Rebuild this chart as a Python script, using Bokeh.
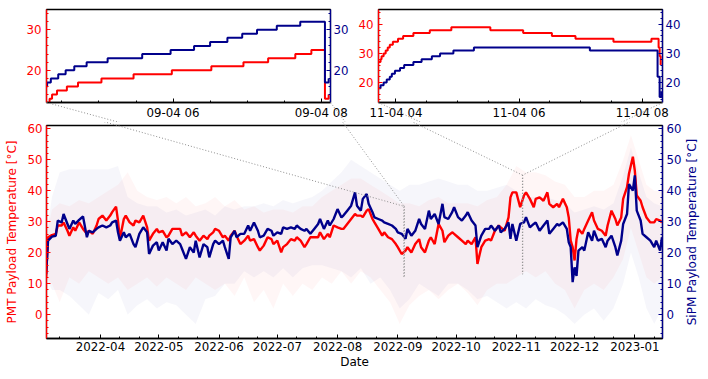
import math
import pandas as pd
from bokeh.plotting import figure
from bokeh.layouts import column, row
from bokeh.models import Range1d, LinearAxis, FixedTicker, SingleIntervalTicker
from bokeh.core.properties import value
from bokeh.embed import file_html
from bokeh.resources import INLINE

FONT = "DejaVu Sans"
RED = "#ff0000"
BLUE = "#00008b"
GRAY = "#8f8f8f"

# ---------------- data ----------------
DATES = ["2022-03-04", "2022-03-05", "2022-03-07", "2022-03-09", "2022-03-10", "2022-03-12", "2022-03-13",
         "2022-03-15", "2022-03-16", "2022-03-18", "2022-03-19", "2022-03-21", "2022-03-23", "2022-03-25",
         "2022-03-26", "2022-03-28", "2022-03-30", "2022-03-31", "2022-04-02", "2022-04-04", "2022-04-06",
         "2022-04-07", "2022-04-09", "2022-04-10", "2022-04-11", "2022-04-13", "2022-04-14", "2022-04-16",
         "2022-04-18", "2022-04-19", "2022-04-21", "2022-04-23", "2022-04-25", "2022-04-26", "2022-04-28",
         "2022-04-30", "2022-05-01", "2022-05-03", "2022-05-05", "2022-05-06", "2022-05-08", "2022-05-10",
         "2022-05-12", "2022-05-13", "2022-05-15", "2022-05-17", "2022-05-19", "2022-05-20", "2022-05-22",
         "2022-05-24", "2022-05-26", "2022-05-27", "2022-05-29", "2022-05-30", "2022-06-01", "2022-06-03",
         "2022-06-04", "2022-06-06", "2022-06-07", "2022-06-09", "2022-06-10", "2022-06-12", "2022-06-14",
         "2022-06-16", "2022-06-17", "2022-06-19", "2022-06-21", "2022-06-22", "2022-06-24", "2022-06-26",
         "2022-06-28", "2022-06-29", "2022-07-01", "2022-07-03", "2022-07-04", "2022-07-06", "2022-07-08",
         "2022-07-10", "2022-07-11", "2022-07-13", "2022-07-15", "2022-07-16", "2022-07-18", "2022-07-20",
         "2022-07-22", "2022-07-23", "2022-07-25", "2022-07-27", "2022-07-28", "2022-07-30", "2022-08-01",
         "2022-08-03", "2022-08-04", "2022-08-06", "2022-08-08", "2022-08-10", "2022-08-11", "2022-08-13",
         "2022-08-14", "2022-08-16", "2022-08-17", "2022-08-19", "2022-08-20", "2022-08-22", "2022-08-24",
         "2022-08-25", "2022-08-27", "2022-08-29", "2022-08-31", "2022-09-01", "2022-09-03", "2022-09-05",
         "2022-09-06", "2022-09-08", "2022-09-10", "2022-09-12", "2022-09-13", "2022-09-15", "2022-09-17",
         "2022-09-18", "2022-09-20", "2022-09-22", "2022-09-24", "2022-09-25", "2022-09-27", "2022-09-29",
         "2022-09-30", "2022-10-02", "2022-10-04", "2022-10-06", "2022-10-07", "2022-10-09", "2022-10-11",
         "2022-10-12", "2022-10-14", "2022-10-16", "2022-10-18", "2022-10-19", "2022-10-21", "2022-10-23",
         "2022-10-24", "2022-10-26", "2022-10-28", "2022-10-29", "2022-10-30", "2022-11-01", "2022-11-03",
         "2022-11-05", "2022-11-06", "2022-11-08", "2022-11-10", "2022-11-11", "2022-11-13", "2022-11-15",
         "2022-11-17", "2022-11-18", "2022-11-20", "2022-11-22", "2022-11-23", "2022-11-25", "2022-11-27",
         "2022-11-28", "2022-11-29", "2022-11-30", "2022-12-01", "2022-12-02", "2022-12-03", "2022-12-05",
         "2022-12-06", "2022-12-08", "2022-12-10", "2022-12-11", "2022-12-13", "2022-12-15", "2022-12-17",
         "2022-12-18", "2022-12-20", "2022-12-22", "2022-12-23", "2022-12-25", "2022-12-26", "2022-12-28",
         "2022-12-29", "2022-12-31", "2023-01-01", "2023-01-02", "2023-01-04", "2023-01-05", "2023-01-07",
         "2023-01-09", "2023-01-11", "2023-01-12", "2023-01-14", "2023-01-15"]

PMT_TEMP = [12.1, 25.0, 25.7, 26.1, 28.8, 28.8, 29.8, 27.1, 25.5, 28.2, 27.1, 29.8, 27.7, 26.1,
            27.1, 26.1, 28.8, 30.9, 32.0, 30.4, 32.0, 33.1, 34.9, 30.4, 24.5, 30.9, 32.0, 29.8,
            28.8, 30.4, 29.8, 32.0, 28.2, 23.9, 26.1, 27.7, 26.6, 27.1, 25.0, 25.5, 27.7, 27.7,
            27.7, 25.5, 26.6, 25.0, 26.6, 25.5, 23.9, 25.5, 24.4, 25.5, 26.6, 27.7, 27.1, 25.0,
            25.5, 23.9, 25.5, 27.1, 25.5, 22.8, 23.9, 25.5, 23.9, 24.4, 21.8, 20.7, 22.3, 25.0,
            24.4, 22.8, 23.9, 20.1, 21.8, 22.8, 24.4, 23.9, 25.0, 23.9, 21.8, 22.8, 25.0, 25.0,
            25.0, 26.6, 24.4, 26.1, 25.0, 28.8, 28.2, 27.7, 27.7, 29.3, 30.9, 32.5, 32.0, 32.0,
            31.5, 33.6, 34.1, 30.9, 29.8, 27.7, 25.5, 26.6, 25.0, 24.4, 22.8, 21.8, 19.6, 20.7,
            21.8, 20.1, 22.8, 24.4, 21.8, 20.1, 23.9, 25.0, 22.8, 29.3, 27.1, 23.4, 25.5, 26.6,
            26.1, 25.0, 23.9, 22.8, 23.9, 22.8, 25.0, 16.4, 21.8, 23.9, 24.4, 23.9, 27.1, 28.8,
            28.2, 27.1, 31.4, 37.9, 39.5, 39.5, 34.7, 38.5, 39.5, 37.4, 34.7, 37.4, 37.9, 36.8,
            39.5, 35.8, 34.7, 35.8, 34.7, 37.4, 34.7, 31.4, 23.9, 21.8, 17.5, 24.4, 27.7, 26.1,
            27.7, 30.4, 33.1, 30.4, 27.7, 27.1, 25.5, 28.8, 33.6, 30.9, 28.8, 31.4, 37.4, 41.2,
            45.5, 51.0, 46.5, 38.5, 36.8, 34.7, 31.4, 29.8, 29.8, 30.9, 30.4, 29.8]

SIPM_TEMP = [13.1, 23.9, 25.2, 25.5, 30.4, 29.8, 32.5, 29.3, 27.7, 30.4, 29.3, 30.6, 31.7, 25.0,
             27.1, 26.6, 27.7, 28.2, 28.8, 28.2, 28.8, 29.8, 30.4, 26.6, 23.9, 26.6, 25.0, 26.1,
             22.8, 21.8, 26.1, 28.2, 26.6, 19.6, 22.3, 23.4, 20.7, 23.4, 20.7, 24.5, 22.8, 23.9,
             22.8, 21.2, 18.0, 21.8, 20.1, 23.9, 18.5, 22.8, 21.8, 18.5, 22.8, 23.9, 22.8, 23.9,
             21.8, 18.0, 25.0, 27.1, 25.0, 26.1, 26.1, 28.8, 27.1, 29.8, 27.1, 25.0, 25.5, 27.7,
             27.1, 25.5, 26.6, 26.1, 28.2, 27.7, 28.2, 27.7, 28.8, 27.7, 27.1, 27.7, 26.1, 27.7,
             29.3, 30.9, 27.7, 30.4, 28.8, 30.9, 34.1, 31.4, 32.0, 33.6, 35.2, 39.5, 35.2, 33.6,
             37.4, 39.0, 35.8, 33.1, 31.4, 30.9, 30.4, 29.8, 29.3, 28.8, 27.7, 26.6, 26.1, 24.5,
             27.7, 25.5, 27.1, 30.9, 29.3, 27.7, 33.6, 30.9, 32.5, 29.3, 35.8, 31.5, 30.9, 33.1,
             34.7, 31.5, 30.4, 32.0, 33.1, 30.4, 28.8, 21.8, 25.5, 27.7, 27.7, 28.8, 27.1, 28.8,
             26.6, 27.7, 29.8, 24.5, 29.3, 23.9, 29.3, 29.8, 31.5, 28.2, 29.3, 29.8, 27.1, 28.8,
             30.4, 26.1, 27.7, 29.3, 28.8, 29.8, 27.7, 23.4, 21.8, 10.5, 15.3, 12.5, 20.7, 21.8,
             20.7, 26.6, 23.9, 27.1, 23.9, 24.5, 21.8, 23.9, 25.5, 21.8, 19.1, 23.9, 29.3, 32.5,
             42.2, 40.1, 45.0, 33.6, 30.4, 26.1, 25.0, 23.9, 21.8, 23.9, 20.7, 25.0]

BAND_DATES = ["2022-03-04", "2022-03-07", "2022-03-11", "2022-03-16", "2022-03-21", "2022-03-26", "2022-03-31",
              "2022-04-05", "2022-04-10", "2022-04-15", "2022-04-20", "2022-04-25", "2022-04-30", "2022-05-05",
              "2022-05-10", "2022-05-15", "2022-05-20", "2022-05-25", "2022-05-30", "2022-06-04", "2022-06-09",
              "2022-06-14", "2022-06-19", "2022-06-24", "2022-06-29", "2022-07-04", "2022-07-09", "2022-07-14",
              "2022-07-19", "2022-07-24", "2022-07-29", "2022-08-03", "2022-08-08", "2022-08-13", "2022-08-18",
              "2022-08-23", "2022-08-28", "2022-09-02", "2022-09-07", "2022-09-12", "2022-09-17", "2022-09-22",
              "2022-09-27", "2022-10-02", "2022-10-07", "2022-10-12", "2022-10-17", "2022-10-22", "2022-10-27",
              "2022-11-01", "2022-11-06", "2022-11-11", "2022-11-16", "2022-11-21", "2022-11-26", "2022-12-01",
              "2022-12-06", "2022-12-11", "2022-12-16", "2022-12-21", "2022-12-26", "2022-12-30", "2023-01-03",
              "2023-01-07", "2023-01-11", "2023-01-15"]
PMT_MIN = [12, 10, 4, 12, 10, 14, 12, 10, 12, 8, 10, 12, 9, 12, 10, 8, 12, 10, 8, 10, 6, 12, 4, 8, 2, 10,
           6, 10, 8, 12, 10, 14, 10, 14, 12, 8, 4, -3, 3, 6, 8, 5, 8, 10, 7, 3, 8, 10, 10, 12, 14, 12, 14,
           10, 8, 2, 8, 10, 8, 12, 18, 28, 20, 12, 10, 12]
PMT_MAX = [25, 34, 36, 35, 37, 36, 38, 40, 42, 46, 40, 38, 37, 38, 36, 38, 35, 36, 38, 35, 37, 34, 35, 33,
           34, 34, 33, 35, 35, 38, 40, 42, 44, 44, 42, 40, 38, 36, 36, 35, 37, 38, 36, 36, 36, 35, 37, 38,
           42, 48, 46, 46, 45, 43, 42, 38, 38, 40, 40, 42, 50, 58, 50, 42, 40, 40]
SIPM_MIN = [12, 8, 8, 6, 3, 0, 7, 5, 8, 0, 3, 5, 2, 4, 3, 0, -3, 5, 6, 10, 10, 14, 12, 14, 12, 15, 12,
            15, 16, 16, 15, 14, 12, 15, 10, 12, 8, 2, 5, 10, 8, 6, 10, 10, 8, 5, 6, 4, 2, 4, 2, 5, 3, 2,
            0, -3, 0, 2, -2, 2, 10, 20, 12, 2, -3, 2]
SIPM_MAX = [25, 38, 46, 47, 47, 47, 47, 47, 48, 38, 36, 35, 35, 33, 34, 32, 33, 34, 32, 35, 34, 35, 35,
            36, 35, 37, 36, 37, 38, 40, 43, 46, 50, 48, 46, 44, 42, 40, 42, 42, 43, 44, 43, 42, 42, 40,
            40, 41, 42, 40, 38, 38, 38, 37, 36, 33, 34, 35, 34, 36, 45, 54, 46, 38, 36, 35]

MONTH_TICKS = ["2022-04-01", "2022-05-01", "2022-06-01", "2022-07-01", "2022-08-01", "2022-09-01",
               "2022-10-01", "2022-11-01", "2022-12-01", "2023-01-01"]
MONTH_LABELS = ["2022-04", "2022-05", "2022-06", "2022-07", "2022-08", "2022-09",
                "2022-10", "2022-11", "2022-12", "2023-01"]

# zoomed windows (insets)
SEP_DAY = "2022-09-04"
SEP_PMT_TIME = ["04:17", "04:20", "04:22", "04:26", "04:34", "04:43", "05:02", "05:28", "05:59", "06:31",
                "06:57", "07:17", "07:39", "07:52", "08:03", "08:06"]
SEP_PMT = [12, 13, 14, 15, 16, 17, 18, 19, 20, 21, 22, 23, 24, 25, 13, 14]
SEP_SIPM_TIME = ["04:17", "04:18", "04:21", "04:27", "04:33", "04:40", "04:50", "05:07", "05:35", "05:58",
                 "06:17", "06:30", "06:44", "06:56", "07:08", "07:24", "07:43", "08:03", "08:06"]
SEP_SIPM = [16, 17, 18, 19, 20, 21, 22, 23, 24, 25, 26, 27, 28, 29, 30, 31, 32, 17, 18]
SEP_TICKS = ["06:00", "08:00"]
SEP_LABELS = ["09-04 06", "09-04 08"]

NOV_DAY = "2022-11-04"
NOV_PMT_TIME = ["03:43", "03:45", "03:46", "03:48", "03:50", "03:52", "03:54", "03:57", "04:02", "04:07",
                "04:17", "04:33", "04:54", "05:32", "06:04", "06:32", "06:55", "07:32", "08:09", "08:16",
                "08:17", "08:18"]
NOV_PMT = [27, 28, 29, 30, 31, 32, 33, 34, 35, 36, 37, 38, 39, 38, 37, 36, 35, 34, 35, 32, 29, 26]
NOV_SIPM_TIME = ["03:43", "03:45", "03:48", "03:51", "03:54", "03:56", "03:59", "04:04", "04:08", "04:17",
                 "04:25", "04:35", "04:43", "04:56", "05:16", "07:09", "08:15", "08:17", "08:19"]
NOV_SIPM = [18, 19, 20, 21, 22, 23, 24, 25, 26, 27, 28, 29, 30, 31, 32, 31, 22, 15, 17]
NOV_TICKS = ["04:00", "06:00", "08:00"]
NOV_LABELS = ["11-04 04", "11-04 06", "11-04 08"]


def ms(s):
    return int(pd.Timestamp(s).value // 10**6)


# ---------------- layout geometry (page pixels) ----------------
PAD = 8
TOP_H = 114 + PAD
MAIN_H = 249
IN1_W = 346 + PAD
IN2_W = 346
MAIN_W = 692 + PAD
IN1_B = (38 + PAD, 24, 1 + PAD, 17)   # left, right, top, bottom
IN2_B = (24, 38, 1 + PAD, 17)
MAIN_B = (38 + PAD, 38, 3, 33)


def frame_box(x_off, y_off, w, h, b):
    return (x_off + b[0], x_off + w - b[1], y_off + b[2], y_off + h - b[3])


F1 = frame_box(0, 0, IN1_W, TOP_H, IN1_B)
F2 = frame_box(IN1_W, 0, IN2_W, TOP_H, IN2_B)
FM = frame_box(0, TOP_H, MAIN_W, MAIN_H, MAIN_B)


def to_px(box, xr, yr, x, y):
    l, r, t, b = box
    return (l + (x - xr[0]) / (xr[1] - xr[0]) * (r - l),
            b - (y - yr[0]) / (yr[1] - yr[0]) * (b - t))


def from_px(box, xr, yr, px, py):
    l, r, t, b = box
    return (xr[0] + (px - l) / (r - l) * (xr[1] - xr[0]),
            yr[0] + (b - py) / (b - t) * (yr[1] - yr[0]))


MAIN_XR = (ms("2022-03-04 05:00"), ms("2023-01-15 06:00"))
MAIN_YR = (-7.7, 61.1)
SEP_XR = (ms(SEP_DAY + " 04:17:30"), ms(SEP_DAY + " 08:07:30"))
SEP_YR = (12.05, 35.0)
NOV_XR = (ms(NOV_DAY + " 03:43"), ms(NOV_DAY + " 08:19:48"))
NOV_YR = (13.1, 45.1)


def style_axis(ax, color, size="11.8px", standoff=4):
    ax.axis_line_color = color
    ax.axis_line_width = 1.3
    ax.major_tick_line_color = color
    ax.minor_tick_line_color = color
    ax.major_tick_in = 4
    ax.major_tick_out = 0
    ax.minor_tick_in = 2
    ax.minor_tick_out = 0
    ax.major_label_text_color = color
    ax.major_label_text_font = FONT
    ax.major_label_text_font_size = size
    ax.major_label_standoff = standoff
    ax.axis_label_text_color = color
    ax.axis_label_text_font = FONT
    ax.axis_label_text_font_size = "12px"
    ax.axis_label_text_font_style = "normal"


def base_fig(w, h, xr, yr, b):
    f = figure(width=w, height=h, x_axis_type="datetime",
               x_range=Range1d(*xr), y_range=Range1d(*yr),
               output_backend="svg", toolbar_location=None,
               min_border_left=b[0], min_border_right=b[1],
               min_border_top=b[2], min_border_bottom=b[3])
    f.extra_y_ranges = {"sipm": Range1d(*yr)}
    f.xgrid.visible = False
    f.ygrid.visible = False
    f.outline_line_color = "black"
    f.outline_line_width = 1.3
    f.background_fill_color = "white"
    f.border_fill_color = "white"
    return f


# ---------------- main figure ----------------
p = base_fig(MAIN_W, MAIN_H, MAIN_XR, MAIN_YR, MAIN_B)
bx = pd.to_datetime(BAND_DATES)
dx = pd.to_datetime(DATES)
p.varea(x=bx, y1=PMT_MIN, y2=PMT_MAX, fill_color=RED, fill_alpha=0.035)
p.varea(x=bx, y1=SIPM_MIN, y2=SIPM_MAX, fill_color=BLUE, fill_alpha=0.035, y_range_name="sipm")
p.line(x=dx, y=PMT_TEMP, line_color=RED, line_width=2.4)
p.line(x=dx, y=SIPM_TEMP, line_color=BLUE, line_width=2.4, y_range_name="sipm")

p.xaxis.ticker = FixedTicker(
    ticks=[ms(t) for t in MONTH_TICKS],
    minor_ticks=[ms(d) for d in pd.date_range("2022-03-01", "2023-01-31", freq="D") if d.day in (11, 21)])
p.xaxis.major_label_overrides = {ms(t): lab for t, lab in zip(MONTH_TICKS, MONTH_LABELS)}
style_axis(p.xaxis[0], "black", standoff=3)
p.xaxis.axis_label = "Date"
p.xaxis.axis_label_standoff = 1

p.yaxis.ticker = SingleIntervalTicker(interval=10, num_minor_ticks=5)
style_axis(p.yaxis[0], RED)
p.yaxis.axis_label = "PMT Payload Temperature [°C]"
p.yaxis.axis_label_standoff = 5

ry = LinearAxis(y_range_name="sipm", ticker=SingleIntervalTicker(interval=10, num_minor_ticks=5))
style_axis(ry, BLUE)
p.add_layout(ry, "right")
p.text(x=[MAIN_XR[1]], y=[(MAIN_YR[0] + MAIN_YR[1]) / 2], text=["SiPM Payload Temperature [°C]"],
       x_offset=29.5, angle=math.pi / 2, text_align="center", text_baseline="middle",
       text_color=BLUE, text_font=value(FONT), text_font_size="12px", level="overlay")


# ---------------- insets ----------------
def make_inset(w, b, xr, yr, day, pt, pv, st, sv, ticks, labels):
    f = base_fig(w, TOP_H, xr, yr, b)
    f.step(x=pd.to_datetime([day + " " + t for t in pt]), y=pv, mode="after",
           line_color=RED, line_width=2)
    f.step(x=pd.to_datetime([day + " " + t for t in st]), y=sv, mode="after",
           line_color=BLUE, line_width=2, y_range_name="sipm")
    tick_ms = [ms(day + " " + t) for t in ticks]
    f.xaxis.ticker = FixedTicker(
        ticks=tick_ms,
        minor_ticks=[ms(d) for d in pd.date_range(day + " 03:00", day + " 09:00", freq="30min")])
    f.xaxis.major_label_overrides = {k: lab for k, lab in zip(tick_ms, labels)}
    style_axis(f.xaxis[0], "black", standoff=3)
    f.yaxis.ticker = SingleIntervalTicker(interval=10, num_minor_ticks=5)
    style_axis(f.yaxis[0], RED, standoff=5)
    ax = LinearAxis(y_range_name="sipm", ticker=SingleIntervalTicker(interval=10, num_minor_ticks=5))
    style_axis(ax, BLUE, standoff=3)
    f.add_layout(ax, "right")
    return f


i1 = make_inset(IN1_W, IN1_B, SEP_XR, SEP_YR, SEP_DAY, SEP_PMT_TIME, SEP_PMT, SEP_SIPM_TIME, SEP_SIPM,
                SEP_TICKS, SEP_LABELS)
i2 = make_inset(IN2_W, IN2_B, NOV_XR, NOV_YR, NOV_DAY, NOV_PMT_TIME, NOV_PMT, NOV_SIPM_TIME, NOV_SIPM,
                NOV_TICKS, NOV_LABELS)

# ---------------- zoom markers and connectors ----------------
for fig, box, xr, yr in [(i1, F1, SEP_XR, SEP_YR), (i2, F2, NOV_XR, NOV_YR)]:
    p.quad(left=[xr[0]], right=[xr[1]], bottom=[yr[0]], top=[yr[1]], fill_alpha=0,
           line_color=GRAY, line_width=1, line_dash="1 2")
    for corner_px, corner_x in [(box[0], xr[0]), (box[1], xr[1])]:
        start_px = (corner_px, box[3])
        tpx = to_px(FM, MAIN_XR, MAIN_YR, corner_x, yr[1])
        m0 = from_px(FM, MAIN_XR, MAIN_YR, *start_px)
        p.segment(x0=[m0[0]], y0=[m0[1]], x1=[corner_x], y1=[yr[1]],
                  line_color=GRAY, line_width=1, line_dash="1 2", level="overlay")
        e = from_px(box, xr, yr, *tpx)
        fig.segment(x0=[corner_x], y0=[yr[0]], x1=[e[0]], y1=[e[1]],
                    line_color=GRAY, line_width=1, line_dash="1 2", level="overlay")

layout = column(row(i1, i2, spacing=0), p, spacing=0)
open("out.html", "w").write(file_html(layout, INLINE))
